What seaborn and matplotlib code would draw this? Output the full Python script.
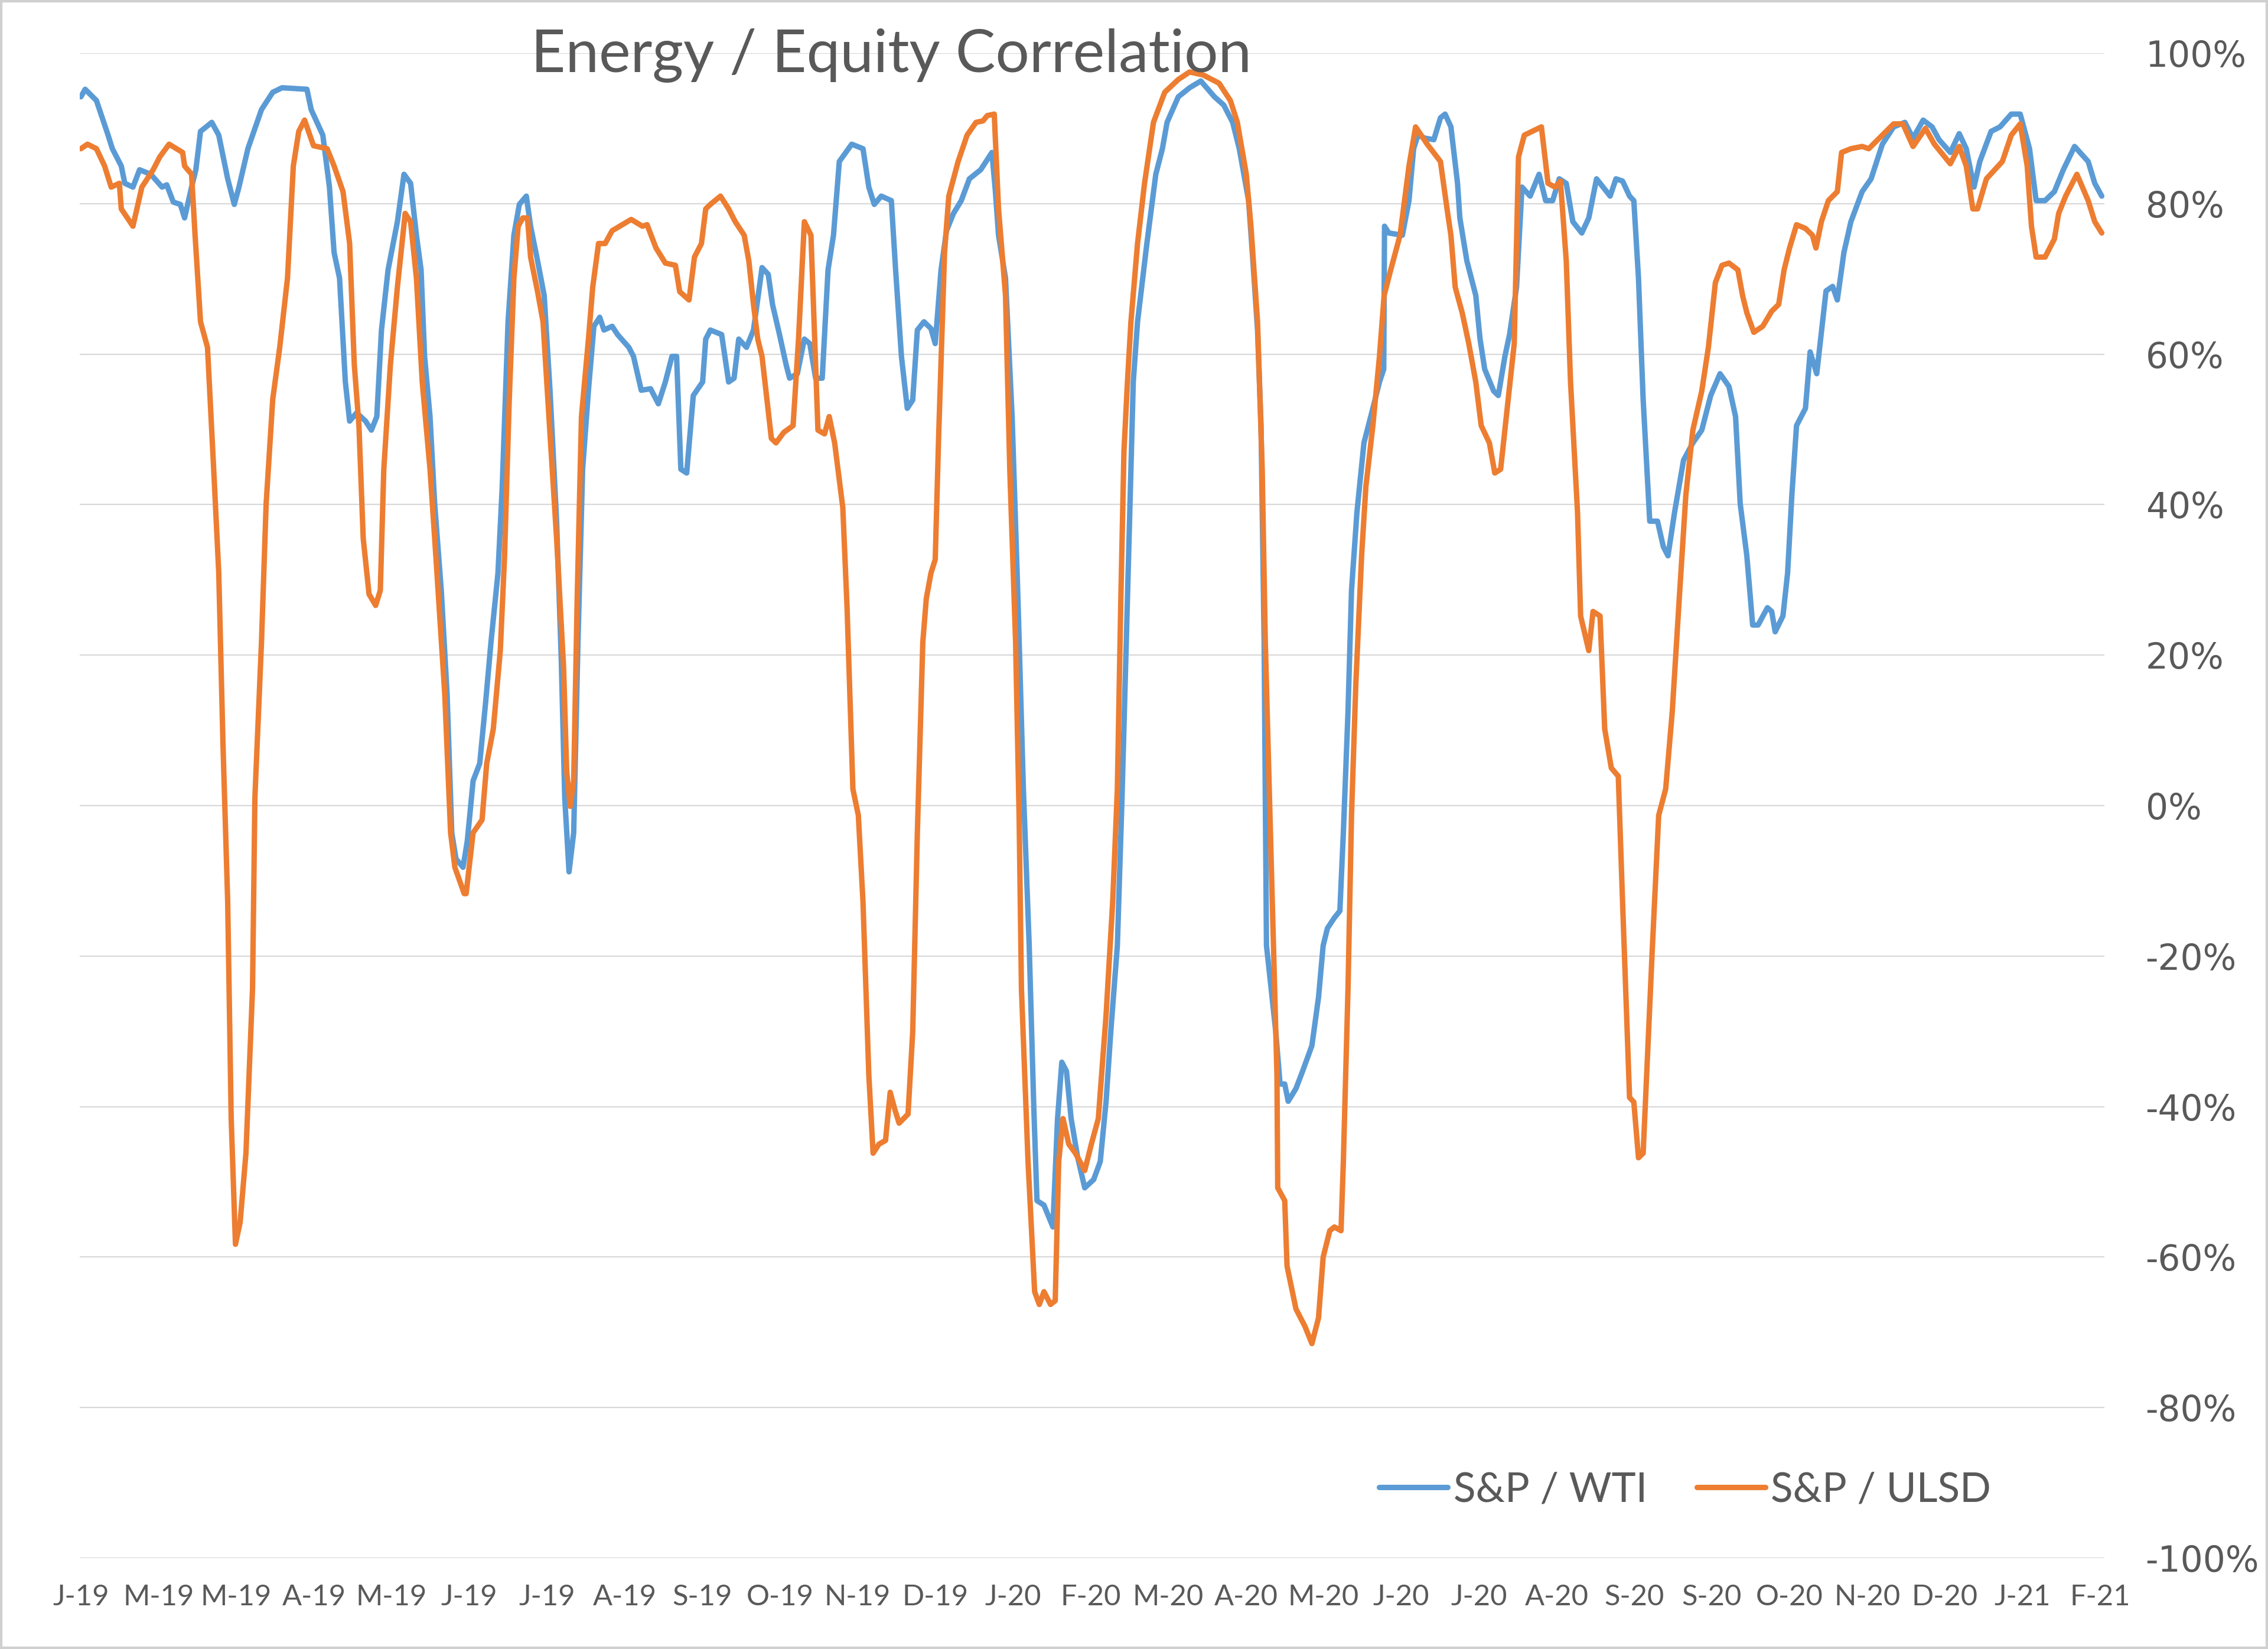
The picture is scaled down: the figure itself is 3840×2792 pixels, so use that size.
import numpy as np
import pandas as pd
import matplotlib
matplotlib.use("Agg")
import matplotlib.pyplot as plt
import seaborn as sns
from matplotlib.patches import Rectangle

# trading-day index (labels every 20 days) and rolling correlation in %
wti_day = [0, 1.1, 4.0, 7.0, 8.1, 10.4, 11.3, 13.4, 15.1, 18.0, 20.9, 22.1, 23.8, 25.6, 26.7, 28.5, 29.6, 30.8,
           33.7, 35.5, 37.8, 39.5, 40.7, 43.0, 46.5, 49.4, 51.8, 58.2, 59.3, 62.3, 64.0, 65.2, 66.6, 68.1, 69.2,
           71.0, 73.3, 74.8, 76.2, 77.4, 79.1, 81.5, 83.2, 84.9,
           86.4, 87.6, 88.5, 89.9, 91.1, 92.8, 94.3, 95.5, 96.6, 98.4, 99.5, 101.0, 102.7, 104.2, 105.6, 107.4,
           108.5, 110.0, 111.5, 112.9, 114.7, 115.8, 117.6, 119.3, 120.8, 122.5, 123.7, 124.6, 125.7, 126.9,
           128.0, 129.2, 130.7, 132.1, 133.6, 134.7, 136.8, 138.2, 141.1, 142.3, 144.3, 146.7, 148.7, 150.5,
           152.2, 153.4, 154.5, 156.0, 157.7, 160.1, 160.9, 162.1, 165.0, 166.8, 168.2, 169.4, 171.4, 173.2, 175.4,
           177.0, 178.1, 179.9, 181.6, 182.5, 184.5, 186.3, 187.7, 189.2, 190.9, 192.4, 193.8, 195.3, 198.5,
           201.4, 202.9, 204.3, 206.1, 208.7, 209.8, 211.3, 212.8, 214.2, 215.4, 217.1, 218.9, 220.0, 221.5,
           222.9, 224.7, 226.7, 228.8, 231.7, 234.6, 235.5, 236.3, 238.1, 239.8, 241.3, 242.7, 244.2, 245.4,
           246.2, 248.0, 250.3, 251.5, 252.6, 253.8, 255.0, 256.7, 258.5, 260.8, 262.5,
           264.0, 265.2, 266.9, 268.1, 269.2, 270.1, 271.0, 272.1, 274.5, 276.8, 278.5, 279.7, 282.6, 285.5,
           288.4, 291.9, 294.3, 296.6, 298.3, 300.7, 301.8, 303.0, 303.9, 304.7, 305.3, 306.5, 307.7, 308.8,
           310.0, 310.9, 312.9, 314.6, 317.0, 318.7, 319.9, 321.0, 322.8, 324.2, 325.1, 326.3, 327.2, 328.6,
           330.4, 332.7, 334.4, 335.5, 335.7, 336.8, 340.3, 342.0, 343.2, 344.3, 346.1, 348.4, 350.1, 351.3,
           352.8, 354.5, 355.1, 356.9, 359.2, 360.3, 361.5, 363.8, 365.0, 366.7, 367.9, 369.7, 371.1, 373.2,
           375.5, 377.2, 379.0, 380.7, 382.5, 384.2, 386.5, 388.3, 390.3, 393.8, 395.3, 397.0, 398.8, 399.9,
           401.1, 402.3, 404.0, 406.0, 407.5, 408.7, 410.4, 412.7, 415.1, 417.4, 419.7, 422.1, 424.4, 426.1,
           427.3, 429.0, 430.5, 431.9, 434.3, 435.4, 436.3, 438.3,
           439.5, 440.6, 441.8, 444.1, 445.3, 447.0, 449.4, 451.1, 452.3, 454.0, 455.8, 458.7, 461.0, 463.9,
           466.8, 469.7, 471.8, 474.4, 476.7, 478.5, 481.4, 483.7, 485.5, 487.5, 489.0, 491.9, 494.2, 497.1,
           499.4, 501.8, 503.5, 505.8, 508.2, 510.5, 513.4, 516.9, 518.6, 520.4]
wti_val = [94.2, 95.2, 93.7, 89.1, 87.3, 85.0, 82.7, 82.2, 84.5, 83.9, 82.2, 82.5, 80.2, 79.9, 78.1, 82.2, 84.5, 89.6,
           90.8, 89.1, 83.3, 79.9, 82.2, 87.3, 92.5, 94.8, 95.4, 95.2, 92.5, 89.1, 82.2, 73.5, 70.1, 56.3, 51.1,
           52.2, 51.1, 49.9, 51.7, 63.2, 71.2, 77.6, 83.9, 82.7,
           75.8, 71.2, 59.7, 51.7, 40.1, 28.6, 14.8, -3.6, -7.1, -8.2, -4.7, 3.3, 5.6, 13.6, 21.7, 30.9,
           42.4, 64.3, 75.8, 79.9, 81.0, 77.0, 72.4, 67.8, 55.2, 37.8, 19.4, 1.0, -8.8, -3.6,
           21.7, 44.7, 55.2, 63.7, 64.9, 63.2, 63.7, 62.6, 60.9, 59.7, 55.2, 55.4, 53.4, 56.3,
           59.7, 59.7, 44.7, 44.2, 54.5, 56.3, 62.0, 63.2, 62.6, 56.3, 56.8, 62.0, 60.9, 63.2, 71.5,
           70.6, 66.6, 62.6, 58.6, 56.8, 57.4, 62.0, 61.4, 56.8, 56.8, 71.2, 75.8, 85.6, 87.9,
           87.3, 82.2, 79.9, 81.0, 80.4, 71.2, 59.7, 52.8, 53.9, 63.2, 64.3, 63.4, 61.4, 71.2,
           76.4, 78.7, 80.4, 83.3, 84.5, 86.8, 81.6, 75.8, 70.1, 51.7, 27.5, 2.2, -18.6, -40.4,
           -52.5, -53.1, -56.0, -41.6, -34.1, -35.3, -41.6, -46.8, -50.8, -49.7, -47.3,
           -39.3, -30.1, -18.6, 1.0, 21.7, 39.0, 56.3, 64.3, 74.7, 83.9, 87.3, 90.8, 94.2, 95.4,
           96.3, 94.2, 93.1, 90.8, 87.3, 80.4, 72.4, 63.2, 50.5, 21.7, -18.6, -24.3, -30.1, -37.0,
           -37.0, -39.3, -37.6, -35.3, -31.9, -25.5, -18.6, -16.3, -14.9, -14.0, -3.6, 12.5, 28.6, 39.0,
           48.2, 52.8, 56.3, 58.0, 77.0, 76.1, 75.8, 80.4, 87.3, 89.1, 88.7, 88.5, 91.4, 91.9,
           90.2, 82.7, 78.1, 72.4, 67.8, 62.0, 58.0, 55.1, 54.5, 59.7, 62.6, 68.9, 82.2, 81.0,
           83.9, 80.4, 80.4, 83.3, 82.7, 77.6, 76.1, 78.1, 83.3, 81.0, 83.3, 83.0, 81.0, 80.4,
           70.1, 54.0, 37.8, 37.8, 34.4, 33.2, 39.0, 45.9, 48.2, 49.9, 54.5, 57.4, 55.7, 51.7,
           40.1, 33.2, 24.0, 24.0, 26.3, 25.8, 23.1, 25.2,
           30.9, 41.3, 50.5, 52.8, 60.3, 57.4, 68.4, 69.0, 67.2, 73.5, 77.6, 81.6, 83.3, 87.9,
           90.2, 90.8, 88.7, 91.1, 90.2, 88.5, 86.8, 89.3, 87.3, 82.2, 85.6, 89.6, 90.2, 91.9,
           91.9, 87.3, 80.4, 80.4, 81.6, 84.5, 87.6, 85.6, 82.7, 81.0]

ulsd_day = [0, 1.7, 4.0, 6.1, 7.8, 9.9, 10.4, 13.4, 15.7, 18.6, 20.3, 22.7, 26.2, 26.7, 28.5, 29.4, 30.8, 32.6,
            34.3, 35.5, 36.6, 37.8, 38.7, 39.8, 41.0, 42.5, 44.2, 44.8, 46.5, 47.7, 49.4, 51.2, 53.2, 54.7,
            56.1, 57.6, 59.9, 63.4, 65.2, 67.5, 69.2, 70.4, 71.6, 72.7, 74.2, 75.9, 77.1, 78.0, 79.7, 81.5,
            83.5, 84.9,
            86.4, 87.9, 89.9, 91.4, 93.7, 95.2, 96.3, 98.7, 99.2, 101.0, 103.3, 104.5, 106.2, 108.0, 109.1,
            110.3, 111.5, 112.6, 113.8, 115.0, 115.8, 117.6, 119.0, 120.8, 122.5, 124.3, 125.1, 126.0, 126.9,
            127.8, 128.9, 130.7, 131.8, 133.3, 135.0, 136.8, 139.4, 141.7, 144.6, 145.8, 148.1, 150.5, 153.1,
            154.2, 156.6, 158.0, 159.8, 160.9, 162.1, 164.7, 166.8, 168.5, 170.8, 172.0, 173.2, 174.3, 175.4,
            177.8, 179.0, 181.0, 183.4, 184.8, 186.3, 188.0, 189.8, 191.5, 192.7, 194.1, 196.2, 197.3, 198.8,
            200.2, 201.4, 202.9, 204.0, 205.5, 207.2, 208.4, 209.6, 210.7, 213.0, 214.2, 215.4, 216.8, 217.7,
            218.9, 220.0, 220.9, 222.4, 223.5, 225.9, 228.2, 230.5, 232.3, 233.4, 235.2, 236.3, 238.1, 239.2,
            240.7, 241.6, 242.2, 243.9, 245.6, 246.8, 248.0, 249.7, 250.9, 251.8, 252.9, 254.4, 256.1, 258.5,
            260.2, 262.0,
            264.0, 265.7, 266.9, 267.8, 268.6, 269.5, 270.4, 272.1, 273.9, 276.2, 279.1, 282.6, 285.5, 289.0,
            293.1, 296.0, 297.8, 300.1, 301.3, 303.0, 304.2, 305.0, 306.2, 307.1, 308.0, 308.2, 310.0, 310.6,
            312.9, 315.2, 317.0, 318.7, 319.9, 321.6, 322.8, 324.5, 325.1, 326.3, 327.2, 328.3, 329.8, 330.9,
            332.7, 334.4, 335.6, 337.3, 339.7, 342.0, 343.7, 346.7, 350.1, 351.8,
            352.8, 353.9, 355.7, 357.4, 359.2, 360.6, 362.7, 364.1, 365.6, 367.3, 369.1, 370.2, 371.7, 373.7,
            376.1, 377.8, 379.6, 381.0, 382.5, 383.6, 385.4, 386.2, 388.3, 389.4, 391.2, 392.4, 394.1, 395.9,
            397.0, 398.2, 398.8, 399.9, 401.1, 402.3, 403.7, 404.6, 406.3, 408.1, 409.8, 411.6, 413.3, 415.1,
            417.4, 419.1, 420.9, 422.6, 424.4, 426.7, 427.9, 429.0, 430.8, 433.1, 435.4, 437.2, 438.6, 440.0,
            441.8, 444.1, 445.9, 446.8, 448.2, 450.0, 452.3, 453.4, 455.8, 458.7, 460.4, 463.9, 466.8, 469.2,
            471.8, 475.0, 477.3, 481.4, 483.7, 485.5, 487.2, 488.4, 490.7, 494.8, 497.1, 499.4, 501.2, 502.3,
            503.5, 505.8, 508.2, 509.3, 511.1, 514.0, 516.9, 518.6, 520.4]
ulsd_val = [87.3, 87.9, 87.3, 85.0, 82.2, 82.7, 79.3, 77.0, 82.2, 84.5, 86.2, 87.9, 86.8, 85.0, 83.9, 75.8, 64.3, 60.9,
            43.6, 30.9, 7.9, -12.8, -41.6, -58.3, -55.4, -46.2, -24.3, 1.0, 21.7, 40.1, 54.0, 60.9, 70.1, 85.0,
            89.6, 91.1, 87.7, 87.3, 85.0, 81.6, 74.7, 58.6, 50.5, 35.5, 28.1, 26.6, 28.6, 44.7, 58.6, 68.9,
            78.7, 77.6,
            70.1, 56.3, 44.7, 33.2, 14.8, -3.6, -8.2, -11.7, -11.7, -3.6, -1.9, 5.6, 10.2, 20.6, 33.2,
            53.9, 70.1, 77.0, 78.1, 78.1, 72.9, 68.3, 64.3, 49.4, 35.5, 18.3, 4.5, -0.1, 3.3,
            27.5, 51.7, 62.0, 68.9, 74.7, 74.7, 76.4, 77.2, 77.9, 77.0, 77.2, 74.1, 72.1, 71.8,
            68.3, 67.2, 72.9, 74.7, 79.3, 79.9, 81.0, 79.3, 77.6, 75.8, 72.4, 66.6, 62.0, 59.7,
            48.8, 48.2, 49.6, 50.5, 62.0, 77.6, 75.8, 49.9, 49.4, 51.7, 48.2, 39.6, 26.3, 2.2,
            -1.3, -12.8, -35.8, -46.2, -45.0, -44.5, -38.1, -40.4, -42.2, -41.0, -30.1, -3.6, 21.7, 27.5,
            30.9, 32.7, 49.4, 73.5, 81.0, 85.6, 89.1, 90.8, 91.0, 91.7, 91.9, 79.3, 67.8, 44.7,
            21.7, -1.3, -24.3, -47.3, -64.6, -66.3, -64.6, -66.3, -65.8, -47.3, -41.6, -45.0, -46.2, -48.5,
            -45.0, -41.6,
            -27.8, -12.8, 2.2, 27.5, 47.1, 56.3, 64.3, 74.7, 82.7, 90.8, 94.8, 96.5, 97.5, 97.1,
            96.0, 93.7, 90.8, 83.9, 77.0, 64.3, 44.7, 21.7, -1.3, -18.6, -35.8, -50.8, -52.5, -61.2,
            -66.9, -69.2, -71.5, -68.1, -60.0, -56.5, -56.0, -56.5, -47.3, -24.3, -1.3, 16.0, 33.2, 42.4,
            50.5, 59.7, 67.8, 71.2, 75.8, 85.0, 90.2, 87.9, 85.6, 79.3,
            75.8, 68.9, 65.5, 61.4, 56.3, 50.5, 48.2, 44.2, 44.7, 52.8, 61.4, 86.2, 89.1, 89.6,
            90.2, 82.7, 82.2, 83.0, 72.4, 56.3, 39.0, 25.2, 20.6, 25.8, 25.2, 10.2, 5.0, 3.9,
            -12.8, -30.1, -38.8, -39.4, -46.8, -46.2, -30.1, -19.7, -1.3, 2.2, 12.5, 27.5, 41.3, 49.9,
            55.1, 60.9, 69.5, 71.8, 72.1, 71.2, 67.8, 65.5, 62.9, 63.7, 65.7, 66.6, 71.2, 74.1,
            77.2, 76.7, 75.8, 74.1, 77.6, 80.4, 81.6, 86.8, 87.3, 87.6, 87.3, 89.1, 90.6, 90.6,
            87.6, 90.0, 87.9, 85.3, 87.6, 85.0, 79.3, 79.3, 83.3, 85.6, 89.1, 90.6, 85.0, 77.0,
            72.9, 72.9, 75.3, 78.7, 81.0, 83.9, 80.4, 77.6, 76.1]

xtick_labels = ["J-19", "M-19", "M-19", "A-19", "M-19", "J-19", "J-19", "A-19", "S-19", "O-19", "N-19",
                "D-19", "J-20", "F-20", "M-20", "A-20", "M-20", "J-20", "J-20", "A-20", "S-20", "S-20",
                "O-20", "N-20", "D-20", "J-21", "F-21"]
label_step = 20
yticks = [-100, -80, -60, -40, -20, 0, 20, 40, 60, 80, 100]

df_wti = pd.DataFrame({"day": wti_day, "corr": wti_val})
df_ulsd = pd.DataFrame({"day": ulsd_day, "corr": ulsd_val})

sns.set_style("white")
plt.rcParams["font.family"] = ["Lato", "DejaVu Sans"]

grey = "#595959"
fig = plt.figure(figsize=(19.2, 13.96), dpi=200)
ax = fig.add_axes([0.03516, 0.05516, 0.89274, 0.91261])

sns.lineplot(data=df_wti, x="day", y="corr", ax=ax, color="#5B9BD5", lw=3.3,
             label="S&P / WTI", estimator=None)
sns.lineplot(data=df_ulsd, x="day", y="corr", ax=ax, color="#ED7D31", lw=3.3,
             label="S&P / ULSD", estimator=None)

ax.set_xlim(-0.3, 521.1)
ax.set_ylim(-100, 100)
ax.set_xlabel("")
ax.set_ylabel("")

ax.set_xticks(np.arange(len(xtick_labels)) * label_step)
ax.set_xticklabels(xtick_labels, fontsize=17.6, color=grey)
ax.tick_params(axis="x", length=0, pad=16)

ax.yaxis.tick_right()
ax.set_yticks(yticks)
ax.set_yticklabels([f"{v}%" for v in yticks], fontsize=21.5, color=grey, family="DejaVu Sans")
ax.tick_params(axis="y", length=0, pad=25)

ax.grid(axis="y", color="#d9d9d9", lw=0.8)
ax.grid(axis="x", visible=False)
ax.set_axisbelow(True)
for s in ax.spines.values():
    s.set_visible(False)

fig.text(0.393, 0.9563, "Energy / Equity Correlation", ha="center", va="baseline",
         fontsize=36.5, color=grey)

ax.legend(loc="center", bbox_to_anchor=(0.743, 0.0964), bbox_transform=fig.transFigure,
          ncol=2, frameon=False, fontsize=25, handlelength=1.67, handletextpad=0.14,
          columnspacing=1.21, labelcolor=grey)

fig.patches.append(Rectangle((0, 0), 1, 1, transform=fig.transFigure, fill=False,
                             edgecolor="#d0d0d0", lw=3))

fig.savefig("out.png", dpi=200)
